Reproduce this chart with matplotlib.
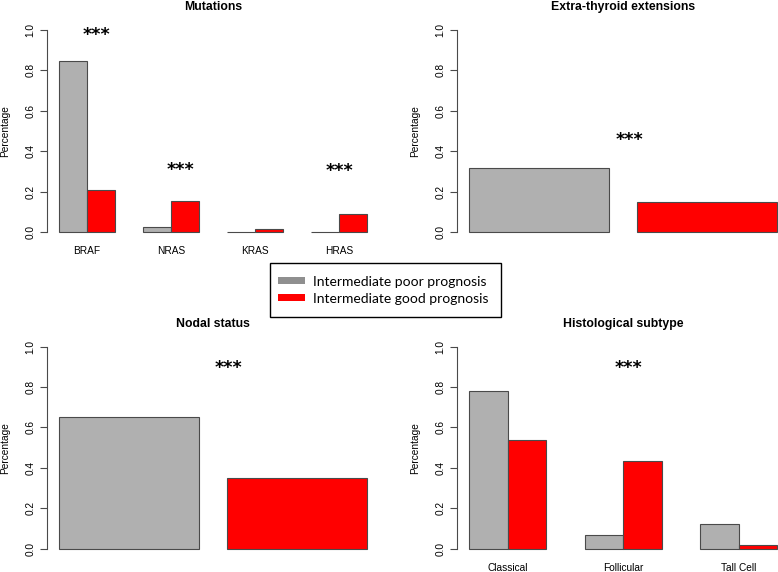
import matplotlib
matplotlib.use("Agg")
import matplotlib.pyplot as plt
from matplotlib.patches import Patch, Rectangle

plt.rcParams['font.family'] = ['Liberation Sans', 'DejaVu Sans']

# data
mut_labels = ["BRAF", "NRAS", "KRAS", "HRAS"]
mut_poor = [0.847, 0.023, 0.0, 0.0]
mut_good = [0.209, 0.153, 0.015, 0.089]
mut_star_x = [2.35, 5.34, 11.0]
mut_star_y = [1.0, 0.333, 0.325]

ext_poor = 0.315
ext_good = 0.148
nodal_poor = 0.654
nodal_good = 0.349

hist_labels = ["Classical", "Follicular", "Tall Cell"]
hist_poor = [0.781, 0.069, 0.122]
hist_good = [0.539, 0.433, 0.020]

legend_labels = ["Intermediate poor prognosis", "Intermediate good prognosis"]

GREY = "#b0b0b0"
RED = "#ff0000"
EDGE = "#4a4a4a"

W, H = 778, 572
fig = plt.figure(figsize=(W / 100, H / 100), dpi=100)


def make_ax(left_px, top_px):
    # plot region: 333 px wide, 218 px tall (R style, 4% padding in y)
    return fig.add_axes([left_px / W, 1 - (top_px + 218.2) / H, 333 / W, 218.2 / H])


def style(ax, title):
    ax.set_ylim(-0.04, 1.04)
    for s in ["top", "right", "bottom"]:
        ax.spines[s].set_visible(False)
    ax.spines["left"].set_bounds(0, 1)
    ax.spines["left"].set_color(EDGE)
    ax.spines["left"].set_linewidth(0.8)
    ax.set_yticks([0, 0.2, 0.4, 0.6, 0.8, 1.0])
    ax.set_yticklabels(["0.0", "0.2", "0.4", "0.6", "0.8", "1.0"], rotation=90, va="center")
    ax.tick_params(axis="y", length=5, width=0.8, color=EDGE, labelsize=7.3, pad=3)
    ax.tick_params(axis="x", length=0, labelsize=7.3, pad=4.5)
    ax.set_ylabel("Percentage", fontsize=7.3, labelpad=11)
    ax.set_title(title, fontsize=8.8, fontweight="bold", pad=8.5)


def grouped(ax, labels, poor, good):
    n = len(labels)
    xs = [1 + 3 * i for i in range(n)]
    ax.bar(xs, poor, width=1, align="edge", color=GREY, edgecolor=EDGE, linewidth=0.8, zorder=2)
    ax.bar([x + 1 for x in xs], good, width=1, align="edge", color=RED, edgecolor=EDGE,
           linewidth=0.8, zorder=2)
    ax.set_xlim(1 - 0.04 * (3 * n - 1), 3 * n + 0.04 * (3 * n - 1))
    ax.set_xticks([x + 1 for x in xs])
    ax.set_xticklabels(labels)


def single(ax, poor, good):
    ax.bar([0.2], [poor], width=1, align="edge", color=GREY, edgecolor=EDGE, linewidth=0.8, zorder=2)
    ax.bar([1.4], [good], width=1, align="edge", color=RED, edgecolor=EDGE, linewidth=0.8, zorder=2)
    ax.set_xlim(0.2 - 0.088, 2.4 + 0.088)
    ax.set_xticks([])


def stars(ax, x, y):
    ax.text(x, y - 0.025, "***", ha="center", va="center", fontsize=12.5,
            fontweight="bold", family="DejaVu Sans")


ax1 = make_ax(46.7, 21.9)
grouped(ax1, mut_labels, mut_poor, mut_good)
style(ax1, "Mutations")
for sx, sy in zip(mut_star_x, mut_star_y):
    stars(ax1, sx, sy)

ax2 = make_ax(456.5, 21.9)
single(ax2, ext_poor, ext_good)
style(ax2, "Extra-thyroid extensions")
stars(ax2, 1.348, 0.481)

ax3 = make_ax(46.7, 338.6)
single(ax3, nodal_poor, nodal_good)
style(ax3, "Nodal status")
stars(ax3, 1.407, 0.921)

ax4 = make_ax(456.7, 338.6)
grouped(ax4, hist_labels, hist_poor, hist_good)
style(ax4, "Histological subtype")
stars(ax4, 5.15, 0.921)

# legend box between the panels
fig.patches.append(Rectangle((270 / W, 1 - 316.5 / H), 231 / W, 53.5 / H,
                             transform=fig.transFigure, fill=True, facecolor="white",
                             edgecolor="black", linewidth=1.0, zorder=5))
handles = [Patch(facecolor="#8f8f8f", edgecolor="none"), Patch(facecolor=RED, edgecolor="none")]
leg = fig.legend(handles, legend_labels, loc="upper left",
                 bbox_to_anchor=(268 / W, 1 - 266 / H), frameon=False,
                 prop={"family": "Lato", "size": 10}, handlelength=1.95, handleheight=0.36,
                 handletextpad=0.6, labelspacing=0.35, borderpad=0.2)
leg.set_zorder(6)

fig.savefig("out.png", dpi=100)
